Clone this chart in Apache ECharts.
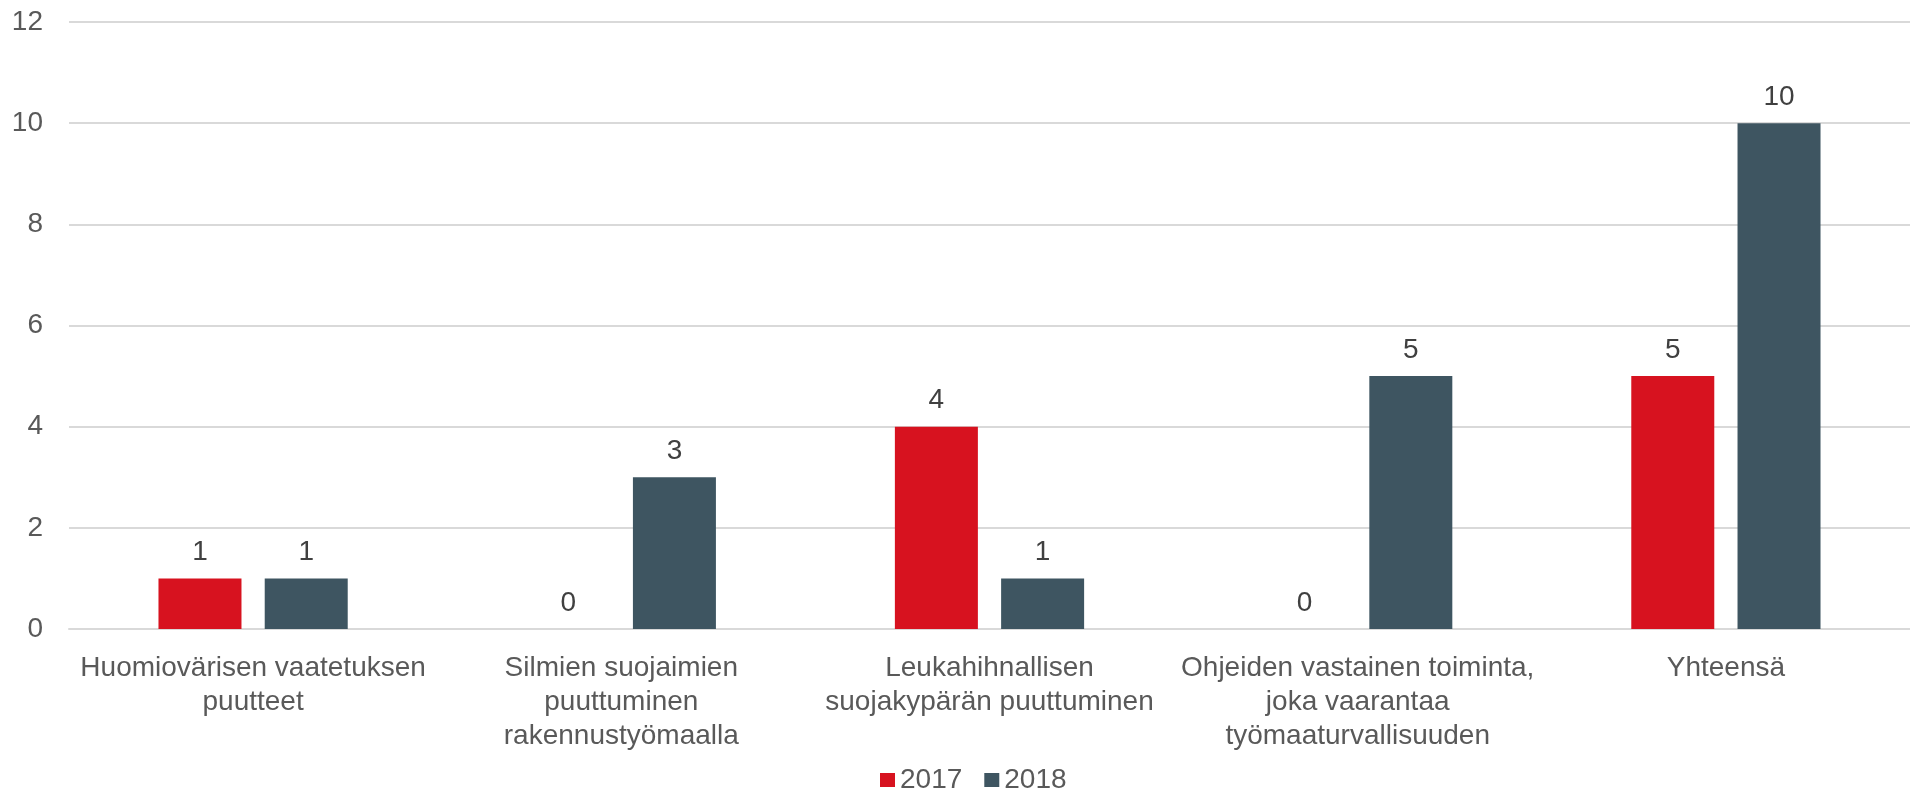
<!DOCTYPE html>
<html><head><meta charset="utf-8">
<script src="https://cdn.jsdelivr.net/npm/echarts@6/dist/echarts.min.js"></script>
<style>html,body{margin:0;padding:0;background:#fff}#c{width:1910px;height:793px}</style>
</head><body><div id="c"></div>
<script>
const categories = [
  "Huomiovärisen vaatetuksen\npuutteet",
  "Silmien suojaimien\npuuttuminen\nrakennustyömaalla",
  "Leukahihnallisen\nsuojakypärän puuttuminen",
  "Ohjeiden vastainen toiminta,\njoka vaarantaa\ntyömaaturvallisuuden",
  "Yhteensä"
];
const seriesNames = ["2017", "2018"];
const values2017 = [1, 0, 4, 0, 5];
const values2018 = [1, 3, 1, 5, 10];
const yTicks = { min: 0, max: 12, interval: 2 };

const FONT = "'Liberation Sans', Arial, sans-serif";
const TXT = "#595959";
const chart = echarts.init(document.getElementById('c'));
const lbl = { show: true, position: 'top', distance: 12, color: '#404040', fontSize: 28, fontFamily: FONT };
chart.setOption({
  animation: false,
  textStyle: { fontFamily: FONT },
  grid: { left: 69, right: 0, top: 22, bottom: 164, containLabel: false },
  legend: {
    left: 875, top: 761, itemWidth: 15, itemHeight: 14, itemGap: 22,
    icon: 'rect',
    textStyle: { fontSize: 28, color: TXT, fontFamily: FONT, padding: [0, 0, 0, 0] },
    data: seriesNames
  },
  xAxis: {
    type: 'category', data: categories,
    axisLine: { show: true, lineStyle: { color: '#D9D9D9', width: 2 } },
    axisTick: { show: false },
    axisLabel: { color: TXT, fontSize: 28, lineHeight: 34, fontFamily: FONT, margin: 22, interval: 0 }
  },
  yAxis: {
    type: 'value', min: yTicks.min, max: yTicks.max, interval: yTicks.interval,
    axisLine: { show: false }, axisTick: { show: false },
    splitLine: { lineStyle: { color: '#D9D9D9', width: 2 } },
    axisLabel: { color: TXT, fontSize: 28, fontFamily: FONT, margin: 26 }
  },
  series: [
    { name: seriesNames[0], type: 'bar', data: values2017, barWidth: 83, barGap: '28%',
      itemStyle: { color: '#D7121F' }, label: lbl },
    { name: seriesNames[1], type: 'bar', data: values2018, barWidth: 83,
      itemStyle: { color: '#3E5561' }, label: lbl }
  ]
});
</script></body></html>
